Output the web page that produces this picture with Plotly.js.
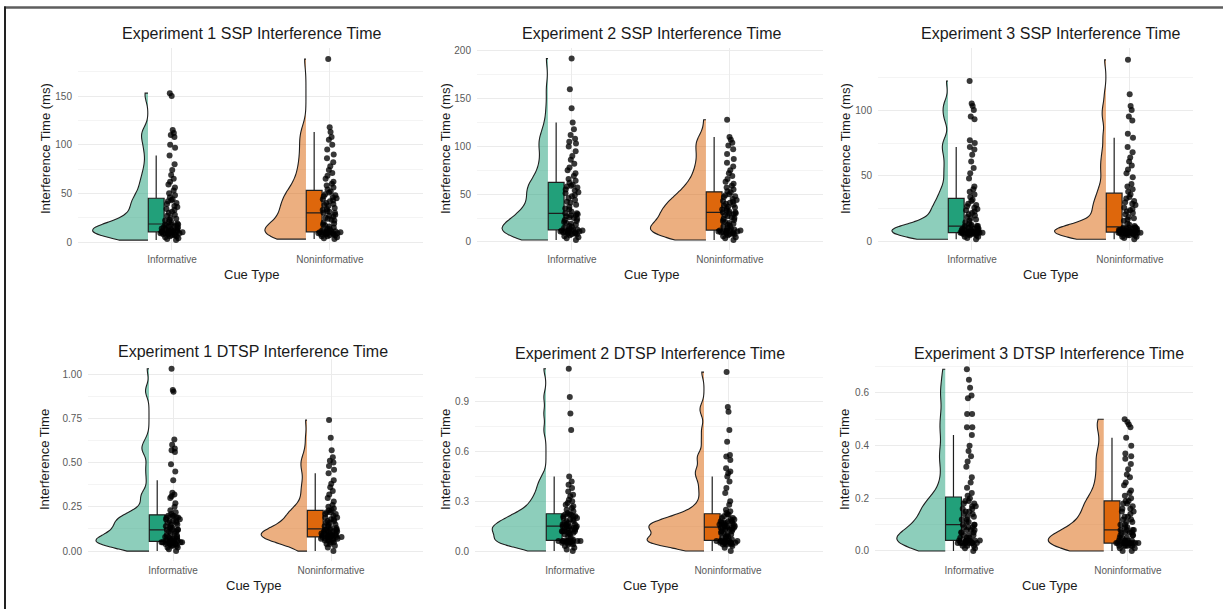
<!DOCTYPE html>
<html>
<head>
<meta charset="utf-8">
<script src="https://cdn.plot.ly/plotly-3.0.1.min.js"></script>
<style>
html,body{margin:0;padding:0;background:#ffffff;}
#chart{width:1223px;height:609px;}
</style>
</head>
<body>
<div id="chart"></div>
<script>
// ---------------- DATA ----------------
const categories = ['Informative', 'Noninformative'];
const panelTitles = [
  'Experiment 1 SSP Interference Time',
  'Experiment 2 SSP Interference Time',
  'Experiment 3 SSP Interference Time',
  'Experiment 1 DTSP Interference Time',
  'Experiment 2 DTSP Interference Time',
  'Experiment 3 DTSP Interference Time'
];
const yAxisTitles = ['Interference Time (ms)', 'Interference Time'];
const xAxisTitle = 'Cue Type';

// Experiment 1 SSP (ms)
const e1SspInformative = [2,3,4,5,6,6,7,7,8,8,8,9,9,9,9,10,10,10,10,10,
  11,11,11,11,12,12,12,13,13,14,14,15,15,16,16,17,17,18,18,18,
  19,20,21,22,23,24,25,27,28,30,31,33,34,36,37,39,40,42,43,44,
  46,48,50,53,56,59,62,65,69,74,80,89,97,100,108,110,112,115,150,153];
const e1SspNoninformative = [3,4,5,6,6,7,7,8,8,8,9,9,9,9,10,10,10,10,10,10,
  11,11,12,12,13,14,15,16,17,18,19,20,22,23,24,25,26,27,28,30,
  30,31,32,33,34,35,37,38,39,40,42,43,44,45,46,47,48,49,51,52,
  54,56,58,60,62,65,68,71,74,78,82,86,90,95,100,105,108,113,118,188];
// Experiment 2 SSP (ms)
const e2SspInformative = [2,4,5,6,7,8,8,9,9,10,10,10,11,11,11,12,12,12,12,12,
  13,13,14,15,16,17,18,19,20,21,22,23,24,25,26,27,28,28,29,30,
  30,32,34,35,37,39,41,42,44,46,48,49,51,52,54,55,57,58,59,60,
  62,64,66,69,72,75,78,82,86,90,95,100,103,105,108,112,118,125,140,160,192];
const e2SspNoninformative = [2,4,5,6,7,8,8,9,9,10,10,10,11,11,11,12,12,12,12,12,
  13,14,15,16,17,18,19,20,21,22,23,24,25,26,27,28,29,30,30,31,
  31,32,33,34,35,36,37,38,39,40,41,42,43,44,45,47,48,49,50,52,
  53,55,57,59,61,63,66,69,72,75,79,83,87,92,97,101,104,107,110,128];
// Experiment 3 SSP (ms)
const e3SspInformative = [2,3,4,4,5,5,6,6,6,6,7,7,7,7,7,7,7,7,7,7,
  7,8,8,8,8,8,8,9,9,9,9,10,10,10,11,11,11,12,12,12,
  12,13,14,15,16,17,18,19,20,21,22,23,24,25,26,27,28,29,31,32,
  34,36,38,40,42,48,52,56,61,66,70,72,75,77,93,95,100,103,105,122];
const e3SspNoninformative = [2,3,4,4,5,5,5,6,6,6,6,7,7,7,7,7,7,7,7,7,
  8,8,8,8,8,8,8,9,9,9,9,9,10,10,10,10,11,11,11,11,
  12,13,14,16,17,18,19,21,22,23,24,25,26,28,29,30,31,33,34,36,
  38,40,42,44,49,52,55,58,61,64,68,72,79,82,92,95,100,103,112,138];
// Experiment 1 DTSP
const e1DtspInformative = [0.00,0.01,0.02,0.02,0.03,0.03,0.03,0.04,0.04,0.04,0.04,0.04,0.05,0.05,0.05,0.05,0.05,0.05,0.05,0.05,
  0.06,0.06,0.06,0.06,0.07,0.07,0.07,0.07,0.08,0.08,0.08,0.09,0.09,0.10,0.10,0.11,0.11,0.12,0.12,0.12,
  0.12,0.13,0.13,0.14,0.14,0.15,0.15,0.16,0.16,0.17,0.17,0.17,0.18,0.18,0.19,0.19,0.19,0.20,0.20,0.20,
  0.21,0.22,0.23,0.25,0.27,0.30,0.31,0.32,0.33,0.40,0.45,0.49,0.56,0.57,0.58,0.60,0.63,0.90,0.91,1.03];
const e1DtspNoninformative = [0.00,0.02,0.03,0.04,0.04,0.05,0.05,0.06,0.06,0.06,0.07,0.07,0.07,0.07,0.07,0.08,0.08,0.08,0.08,0.08,
  0.08,0.09,0.09,0.09,0.09,0.09,0.09,0.10,0.10,0.10,0.10,0.11,0.11,0.11,0.11,0.12,0.12,0.12,0.12,0.12,
  0.13,0.13,0.14,0.14,0.15,0.15,0.16,0.16,0.17,0.17,0.18,0.18,0.19,0.19,0.20,0.21,0.21,0.22,0.22,0.23,
  0.23,0.24,0.25,0.26,0.28,0.30,0.32,0.34,0.36,0.38,0.40,0.44,0.46,0.48,0.50,0.51,0.53,0.57,0.64,0.74];
// Experiment 2 DTSP
const e2DtspInformative = [0.00,0.01,0.02,0.03,0.04,0.04,0.05,0.05,0.05,0.05,0.06,0.06,0.06,0.06,0.06,0.06,0.06,0.06,0.06,0.06,
  0.07,0.08,0.09,0.10,0.10,0.11,0.11,0.11,0.12,0.12,0.12,0.12,0.13,0.13,0.13,0.14,0.14,0.14,0.14,0.15,
  0.15,0.15,0.15,0.16,0.16,0.16,0.17,0.17,0.18,0.18,0.19,0.19,0.20,0.20,0.21,0.21,0.21,0.22,0.22,0.22,
  0.23,0.24,0.25,0.26,0.27,0.28,0.29,0.30,0.31,0.33,0.34,0.36,0.38,0.40,0.42,0.45,0.73,0.83,0.93,1.10];
const e2DtspNoninformative = [0.00,0.02,0.03,0.04,0.04,0.04,0.05,0.05,0.05,0.05,0.05,0.05,0.05,0.06,0.06,0.06,0.06,0.06,0.06,0.06,
  0.07,0.07,0.08,0.08,0.09,0.09,0.10,0.10,0.11,0.11,0.12,0.12,0.13,0.13,0.13,0.14,0.14,0.14,0.14,0.14,
  0.15,0.15,0.15,0.16,0.16,0.16,0.17,0.17,0.17,0.17,0.18,0.18,0.18,0.19,0.19,0.20,0.20,0.21,0.22,0.22,
  0.23,0.24,0.25,0.28,0.30,0.35,0.38,0.42,0.45,0.47,0.48,0.50,0.55,0.57,0.58,0.66,0.73,0.84,0.87,1.08];
// Experiment 3 DTSP
const e3DtspInformative = [0.00,0.01,0.01,0.02,0.02,0.02,0.03,0.03,0.03,0.03,0.03,0.03,0.03,0.03,0.03,0.04,0.04,0.04,0.04,0.04,
  0.04,0.04,0.04,0.05,0.05,0.05,0.06,0.06,0.06,0.07,0.07,0.07,0.08,0.08,0.08,0.09,0.09,0.09,0.10,0.10,
  0.10,0.11,0.11,0.12,0.12,0.13,0.13,0.14,0.14,0.15,0.15,0.16,0.16,0.17,0.17,0.18,0.18,0.19,0.19,0.20,
  0.21,0.22,0.24,0.26,0.28,0.32,0.34,0.36,0.38,0.40,0.44,0.47,0.47,0.52,0.52,0.58,0.59,0.62,0.65,0.69];
const e3DtspNoninformative = [0.00,0.00,0.01,0.01,0.02,0.02,0.02,0.02,0.02,0.02,0.03,0.03,0.03,0.03,0.03,0.03,0.03,0.03,0.03,0.03,
  0.03,0.03,0.04,0.04,0.04,0.04,0.04,0.05,0.05,0.05,0.06,0.06,0.06,0.07,0.07,0.07,0.07,0.08,0.08,0.08,
  0.08,0.09,0.09,0.10,0.10,0.11,0.11,0.12,0.12,0.13,0.13,0.14,0.15,0.15,0.16,0.16,0.17,0.18,0.18,0.19,
  0.19,0.20,0.21,0.22,0.23,0.25,0.26,0.28,0.29,0.31,0.33,0.35,0.36,0.37,0.40,0.43,0.47,0.48,0.49,0.50];

// ---------------- LAYOUT / STYLE ----------------
const W = 1223, H = 609;
const px = v => v / W;
const py = v => 1 - v / H;

const panels = [
  {data:[e1SspInformative, e1SspNoninformative], yt:0, xpx:[78,423], ypx:[48,250], xr:[0.405,2.589], yr:[-8.2,199.4], dtick:50, minor:25, fmt:'', vw:[0.70,0.52], bw:[7,9], cx:251, ytx:45, ty:33},
  {data:[e2SspInformative, e2SspNoninformative], yt:0, xpx:[477,823], ypx:[48,250], xr:[0.399,2.589], yr:[-8.4,203.1], dtick:50, minor:25, fmt:'', vw:[0.58,0.70], bw:[9,8.5], cx:651, ytx:445, ty:33},
  {data:[e3SspInformative, e3SspNoninformative], yt:0, xpx:[878,1193], ypx:[48,250], xr:[0.405,2.399], yr:[-6.1,147], dtick:50, minor:25, fmt:'', vw:[0.71,0.65], bw:[5,5], cx:1050, ytx:845, ty:33},
  {data:[e1DtspInformative, e1DtspNoninformative], yt:1, xpx:[88,423], ypx:[359,561], xr:[0.462,2.582], yr:[-0.056,1.085], dtick:0.25, minor:0.125, fmt:'.2f', vw:[0.67,0.58], bw:[0.034,0.036], cx:253, ytx:44, ty:351},
  {data:[e2DtspInformative, e2DtspNoninformative], yt:1, xpx:[475,823], ypx:[359,561], xr:[0.399,2.601], yr:[-0.060,1.159], dtick:0.3, minor:0.15, fmt:'.1f', vw:[0.68,0.72], bw:[0.036,0.034], cx:650, ytx:445, ty:353},
  {data:[e3DtspInformative, e3DtspNoninformative], yt:1, xpx:[875,1193], ypx:[359,561], xr:[0.405,2.411], yr:[-0.038,0.729], dtick:0.2, minor:0.1, fmt:'.1f', vw:[0.61,0.70], bw:[0.034,0.033], cx:1049, ytx:844, ty:353}
];

const violinFill = ['rgba(27,158,119,0.5)', 'rgba(217,95,2,0.5)'];
const boxFill = ['#22a07a', '#de670c'];
const outline = '#1e1e1e';
const font = 'Liberation Sans, Arial, Helvetica, sans-serif';

const traces = [];
const layout = {
  width: W, height: H,
  margin: {l:0, r:0, t:0, b:0, pad:0},
  paper_bgcolor: '#ffffff', plot_bgcolor: '#ffffff',
  showlegend: false,
  violinmode: 'overlay', boxmode: 'overlay',
  font: {family: font, color: '#222'},
  annotations: [],
  shapes: [
    {type:'line', xref:'paper', yref:'paper', x0:px(4), x1:px(1223), y0:py(7.5), y1:py(7.5), line:{color:'#5e5e5e', width:2.5}},
    {type:'line', xref:'paper', yref:'paper', x0:px(5), x1:px(5), y0:py(6.5), y1:py(609), line:{color:'#222222', width:2}}
  ]
};

panels.forEach((p, i) => {
  const s = i === 0 ? '' : String(i + 1);
  const xa = 'x' + s, ya = 'y' + s;
  p.data.forEach((vals, k) => {
    const pos = k + 1;
    traces.push({
      type:'violin', xaxis:xa, yaxis:ya, y:vals, x0:pos - 0.152, name:categories[k],
      side:'negative', width:p.vw[k], bandwidth:p.bw[k], spanmode:'hard', scalemode:'width',
      points:false, box:{visible:false}, meanline:{visible:false},
      fillcolor:violinFill[k], line:{color:outline, width:1.1}, hoverinfo:'skip'
    });
    traces.push({
      type:'box', xaxis:xa, yaxis:ya, y:vals, x0:pos - 0.10, name:categories[k],
      width:0.10, boxpoints:'outliers', whiskerwidth:0,
      marker:{color:'rgba(0,0,0,0)', size:1, line:{width:0}},
      fillcolor:boxFill[k], line:{color:outline, width:1.2}, hoverinfo:'skip'
    });
    traces.push({
      type:'box', xaxis:xa, yaxis:ya, y:vals, x0:pos, name:categories[k],
      width:0.15, boxpoints:'all', jitter:1, pointpos:0,
      fillcolor:'rgba(0,0,0,0)', line:{color:'rgba(0,0,0,0)', width:0},
      marker:{color:'rgba(0,0,0,0.78)', size:6, line:{width:0}}, hoverinfo:'skip'
    });
  });

  layout['xaxis' + s] = {
    domain:[px(p.xpx[0]), px(p.xpx[1])], anchor:ya, type:'linear', range:p.xr,
    tickvals:[1,2], ticktext:categories, showgrid:true, gridcolor:'#ebebeb', gridwidth:1,
    zeroline:false, showline:false, ticks:'', ticklabelstandoff:2,
    tickfont:{family:font, size:10, color:'#5a5a5a'}, fixedrange:true
  };
  layout['yaxis' + s] = {
    domain:[py(p.ypx[1]), py(p.ypx[0])], anchor:xa, range:p.yr,
    tick0:0, dtick:p.dtick, tickformat:p.fmt,
    showgrid:true, gridcolor:'#ebebeb', gridwidth:1,
    minor:{tick0:0, dtick:p.minor, showgrid:true, gridcolor:'#f4f4f4', gridwidth:1, ticks:''},
    zeroline:false, showline:false, ticks:'', ticklabelstandoff:5,
    tickfont:{family:font, size:10, color:'#5a5a5a'}, fixedrange:true
  };

  const midY = (p.ypx[0] + p.ypx[1]) / 2;
  layout.annotations.push({
    xref:'paper', yref:'paper', x:px(p.cx), y:py(p.ty), text:panelTitles[i],
    showarrow:false, xanchor:'center', yanchor:'middle', font:{family:font, size:16, color:'#1a1a1a'}
  });
  layout.annotations.push({
    xref:'paper', yref:'paper', x:px(p.ytx), y:py(midY), text:yAxisTitles[p.yt], textangle:-90,
    showarrow:false, xanchor:'center', yanchor:'middle', font:{family:font, size:13, color:'#1a1a1a'}
  });
  layout.annotations.push({
    xref:'paper', yref:'paper', x:px(p.cx), y:py(p.ypx[1] + 24), text:xAxisTitle,
    showarrow:false, xanchor:'center', yanchor:'middle', font:{family:font, size:13, color:'#1a1a1a'}
  });
});

Plotly.newPlot('chart', traces, layout, {displayModeBar:false, staticPlot:true});
</script>
</body>
</html>
